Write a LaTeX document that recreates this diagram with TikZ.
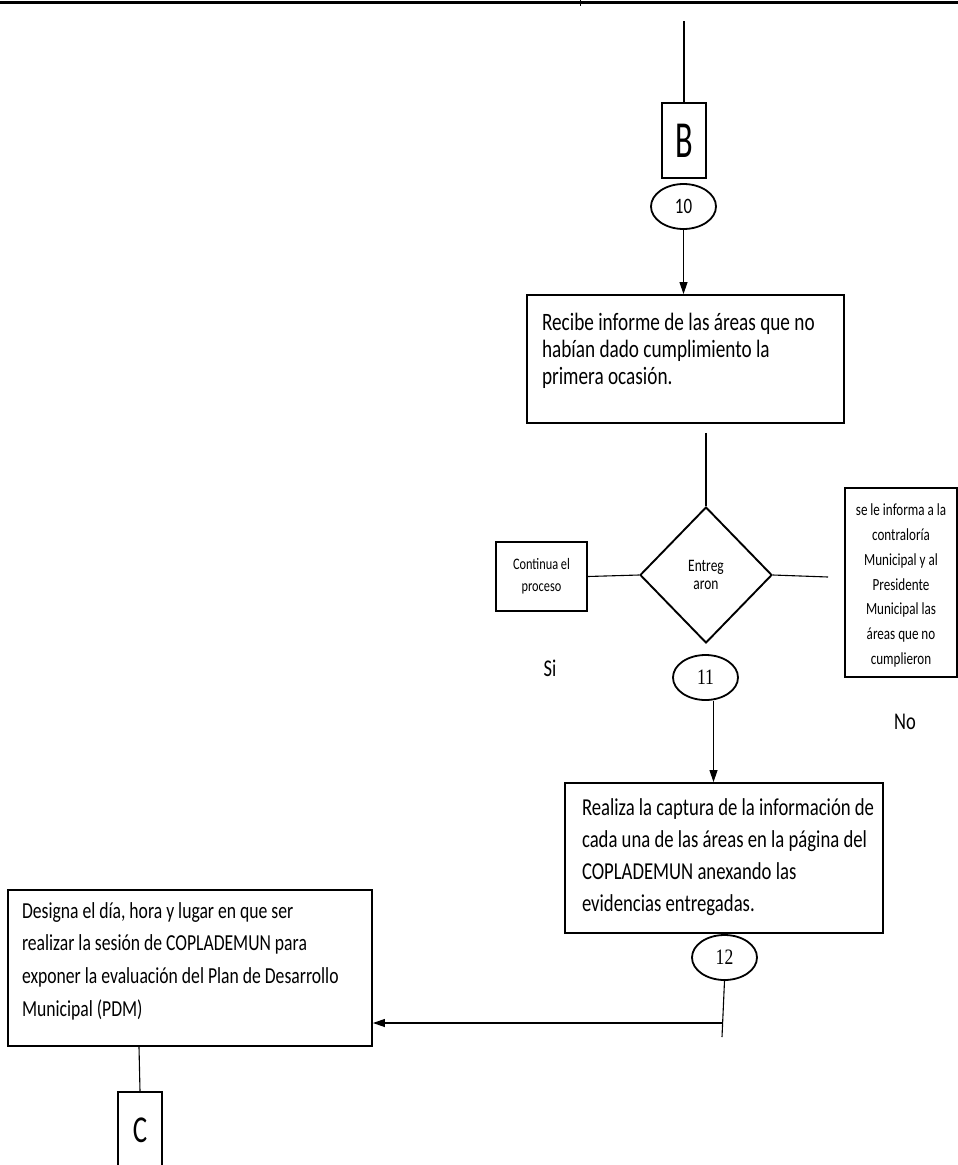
\documentclass[tikz,border=0pt]{standalone}
\usepackage{fontspec}
\usepackage{graphicx}
\setmainfont{Carlito}[FakeStretch=0.77]
\newfontfamily\numfont{Liberation Serif}[FakeStretch=0.8]
\usetikzlibrary{shapes.geometric,arrows.meta}
% fixed-size text block: height, width, top gap, font/alignment, text
\newcommand\caja[5]{\parbox[c][#1pt][t]{#2pt}{#4\vspace*{#3pt}\strut #5}}
\begin{document}
\begin{tikzpicture}[x=1pt,y=-1pt,
  box/.style={draw, line width=1.9pt, rectangle, inner ysep=0pt},
  link/.style={draw, line width=1.1pt},
  arr/.style={link, -{Triangle[length=12pt,width=8pt]}},
  oval/.style={ellipse, draw, line width=1.8pt, minimum width=65pt, minimum height=45pt, inner sep=0pt},
  dec/.style={diamond, draw, line width=1.9pt, minimum width=132pt, minimum height=136pt, inner sep=0pt, align=center},
  lbl/.style={inner sep=0pt}]
\useasboundingbox (0,0) rectangle (958,1165);
\clip (0,0) rectangle (958,1165);
\fill[white] (0,0) rectangle (958,1165);

% page frame at the top
\draw[line width=3pt] (0,2) -- (958,2);
\draw[line width=1pt] (580,0) -- (580,6);

% connector B
\node[box, minimum width=44pt, minimum height=75pt, inner sep=0pt] (B) at (684,140.5)
  {\scalebox{1.05}[1.3]{\fontsize{40}{40}\selectfont B}};
\coordinate (entry) at (684,21);
\draw[link] (entry) -- (B.north);

\node[oval] (e10) at (683.5,206.5) {\fontsize{22}{22}\selectfont 10};

\node[box, inner xsep=15pt] (box1) at (685.5,359)
  {\caja{128}{287}{16.1}{\raggedright\fontsize{25}{27}\selectfont}{\mbox{Recibe informe de las áreas que no}\\\mbox{habían dado cumplimiento la}\\\mbox{primera ocasión.}}};
\draw[arr] (e10.south) -- (e10.south |- box1.north);

% decision
\node[dec, font=\fontsize{17.5}{18}\selectfont] (dia) at (706,575) {Entreg\\aron};
\draw[link] ([yshift=-9pt]box1.south -| dia.north) -- (dia.north);

\node[box, inner xsep=3pt] (cont) at (541.5,576.5)
  {\caja{69}{85}{11.6}{\centering\fontsize{16}{22}\selectfont}{Continua el\\proceso}};
\draw[link] (cont.east) -- (dia.west);

\node[box, inner xsep=4pt] (inf) at (901,582.5)
  {\caja{189}{104}{10.7}{\centering\fontsize{17}{24.7}\selectfont}{se le informa a la\\contraloría\\Municipal y al\\Presidente\\Municipal las\\áreas que no\\cumplieron}};
\coordinate (noend) at (828,577);
\draw[link] (dia.east) -- (noend);

\node[lbl] (si) at (550,668) {\fontsize{24}{24}\selectfont Si};
\node[lbl] (no) at (905,722) {\fontsize{24}{24}\selectfont No};

\node[oval] (e11) at (705.5,677.5) {\numfont\fontsize{22}{22}\selectfont 11};

\node[box, inner xsep=17pt] (box2) at (724,858)
  {\caja{150}{284}{9.6}{\raggedright\fontsize{24.3}{32}\selectfont}{\mbox{Realiza la captura de la información de}\\\mbox{cada una de las áreas en la página del}\\\mbox{COPLADEMUN anexando las}\\\mbox{evidencias entregadas.}}};
\draw[arr] ([xshift=8pt]e11.south) -- ([xshift=8pt]e11.south |- box2.north);

\node[oval] (e12) at (724.5,957.5) {\numfont\fontsize{22}{22}\selectfont 12};

\node[box, inner xsep=14pt] (desig) at (190,968)
  {\caja{156}{336}{5.1}{\raggedright\fontsize{22.9}{32.7}\selectfont}{\mbox{Designa el día, hora y lugar en que ser}\\\mbox{realizar la sesión de COPLADEMUN para}\\\mbox{exponer la evaluación del Plan de Desarrollo}\\\mbox{Municipal (PDM)}}};

\coordinate (tail12) at (722,1037);
\coordinate (join12) at (722,1023);
\draw[link] (e12.south) -- (tail12);
\draw[arr] (join12) -- (desig.east |- join12);

% connector C
\node[box, minimum width=44pt, minimum height=76pt, inner sep=0pt] (C) at (140,1130)
  {\scalebox{0.92}[1.0]{\fontsize{38}{38}\selectfont C}};
\draw[link] ([xshift=-1pt]C.north |- desig.south) -- (C.north);
\end{tikzpicture}
\end{document}
